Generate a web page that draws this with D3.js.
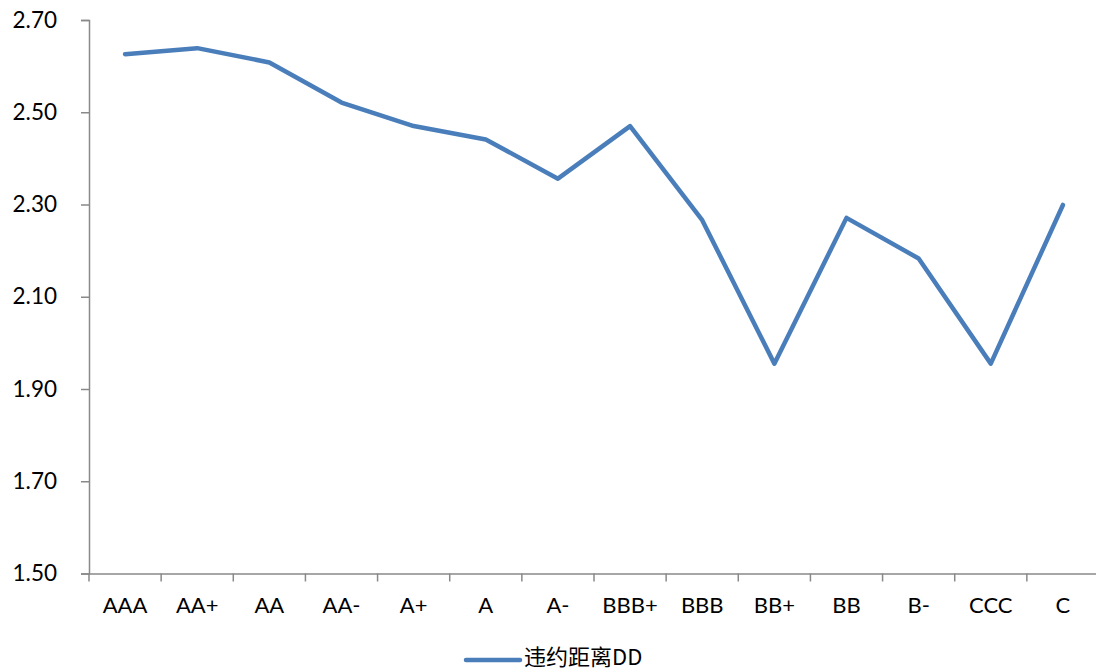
<!DOCTYPE html>
<html>
<head>
<meta charset="utf-8">
<script src="https://cdn.jsdelivr.net/npm/d3@7/dist/d3.min.js"></script>
<style>
  html, body { margin: 0; padding: 0; background: #fff; }
  svg { display: block; }
</style>
</head>
<body>
<svg id="chart" width="1096" height="672"></svg>
<script>
// Rating grades along the x axis
const categories = ["AAA", "AA+", "AA", "AA-", "A+", "A", "A-", "BBB+", "BBB", "BB+", "BB", "B-", "CCC", "C"];
// Distance-to-default by grade
const ddValues = [2.626, 2.639, 2.608, 2.521, 2.470, 2.441, 2.356, 2.470, 2.266, 1.955, 2.271, 2.183, 1.955, 2.299];
// Y axis tick values
const yTicks = [1.50, 1.70, 1.90, 2.10, 2.30, 2.50, 2.70];
const seriesName = "违约距离DD";

(function () {
  const svg = d3.select("#chart");
  const plotLeft = 89, plotRight = 1099, plotTop = 20, plotBottom = 573.5;
  const axisColor = "#898989";
  const lineColor = "#4A7EBB";
  const font = "Lato, 'Open Sans', sans-serif";

  const x = d3.scaleBand().domain(categories).range([plotLeft, plotRight]);
  const y = d3.scaleLinear().domain([1.5, 2.7]).range([plotBottom, plotTop]);

  // Y axis
  const yAxis = svg.append("g")
    .attr("transform", `translate(${plotLeft},0)`)
    .call(d3.axisLeft(y).tickValues(yTicks).tickFormat(d3.format(".2f")).tickSize(8).tickPadding(24));
  yAxis.select(".domain").attr("stroke", axisColor).attr("stroke-width", 1.5);
  yAxis.selectAll(".tick line").attr("stroke", axisColor).attr("stroke-width", 1.5);
  yAxis.selectAll(".tick text")
    .attr("fill", "#000").style("font-family", font).style("font-size", "22.5px");

  // X axis: ticks sit on category boundaries
  const xAxis = svg.append("g")
    .attr("transform", `translate(0,${plotBottom})`)
    .call(d3.axisBottom(x).tickSize(0).tickPadding(24));
  xAxis.select(".domain").attr("stroke", axisColor).attr("stroke-width", 1.5);
  xAxis.selectAll(".tick text")
    .attr("fill", "#000").style("font-family", font).style("font-size", "22px");
  xAxis.selectAll(".boundary")
    .data(categories)
    .join("line")
    .attr("class", "boundary")
    .attr("x1", d => x(d)).attr("x2", d => x(d))
    .attr("y1", 0).attr("y2", 8)
    .attr("stroke", axisColor).attr("stroke-width", 1.5);

  // Series line
  const pts = categories.map((c, i) => [x(c) + x.bandwidth() / 2, y(ddValues[i])]);
  svg.append("path")
    .attr("d", d3.line()(pts))
    .attr("fill", "none")
    .attr("stroke", lineColor)
    .attr("stroke-width", 4.5)
    .attr("stroke-linejoin", "round")
    .attr("stroke-linecap", "round");

  // Legend
  const lg = svg.append("g").attr("transform", "translate(466,660)");
  lg.append("line")
    .attr("x1", 0).attr("x2", 54).attr("y1", 0).attr("y2", 0)
    .attr("stroke", lineColor).attr("stroke-width", 4.5).attr("stroke-linecap", "round");
  lg.append("text")
    .attr("x", 58).attr("y", -3).attr("dy", "0.35em")
    .style("font-family", "'Noto Sans CJK SC', Lato, sans-serif")
    .style("font-size", "22px")
    .text(seriesName);
})();
</script>
</body>
</html>
